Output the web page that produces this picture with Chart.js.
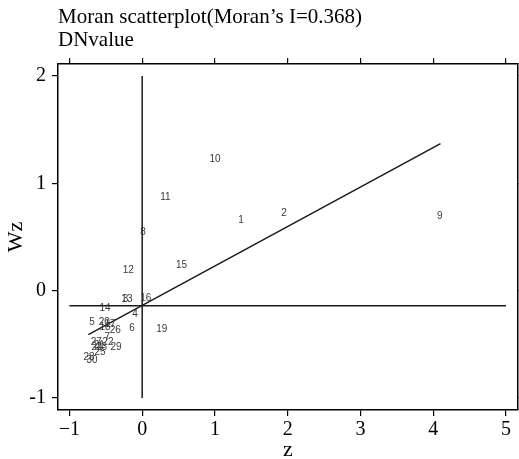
<!DOCTYPE html>
<html>
<head>
<meta charset="utf-8">
<script src="https://cdn.jsdelivr.net/npm/chart.js@4/dist/chart.umd.min.js"></script>
<style>
  html, body { margin: 0; padding: 0; background: #fff; }
  canvas { display: block; }
</style>
</head>
<body>
<canvas id="moranChart" width="519" height="459"></canvas>
<script>
// Moran scatterplot values
const pointIds = ["1", "2", "3", "4", "5", "6", "7", "8", "9", "10",
  "11", "12", "13", "14", "15", "16", "17", "18", "19", "20",
  "21", "22", "23", "24", "25", "26", "27", "28", "29", "30"];
const zValues = [1.36, 1.95, -0.23, -0.10, -0.69, -0.14, -0.48, 0.01, 4.09, 1.00,
  0.32, -0.19, -0.21, -0.51, 0.54, 0.05, -0.44, -0.51, 0.27, -0.52,
  -0.59, -0.47, -0.56, -0.62, -0.58, -0.37, -0.63, -0.73, -0.36, -0.69];
const wzValues = [0.66, 0.72, -0.08, -0.22, -0.29, -0.35, -0.43, 0.54, 0.69, 1.22,
  0.87, 0.19, -0.08, -0.16, 0.24, -0.07, -0.31, -0.34, -0.36, -0.29,
  -0.51, -0.48, -0.53, -0.53, -0.57, -0.37, -0.48, -0.62, -0.53, -0.65];

// reference lines
const fitLineZ = [-0.74, 4.10];
const fitLineWz = [-0.41, 1.37];
const meanLineZ = [-1, 5];
const meanLineWz = [-0.14, -0.14];
const zeroLineZ = [0, 0];
const zeroLineWz = [-1, 2];

const xTicks = [-1, 0, 1, 2, 3, 4, 5];
const yTicks = [-1, 0, 1, 2];
const xRange = [-1.157, 5.165];
const yRange = [-1.112, 2.112];
const titleLines = ["Moran scatterplot(Moran\u2019s I=0.368)", "DNvalue"];

const serif = "'Liberation Serif', 'Times New Roman', serif";

function toPoints(xs, ys) {
  return xs.map((x, i) => ({ x: x, y: ys[i] }));
}

function lineDataset(xs, ys) {
  return {
    data: toPoints(xs, ys),
    showLine: true,
    borderColor: "#1a1a1a",
    borderWidth: 1.5,
    pointRadius: 0,
    xAxisID: "x",
    yAxisID: "y",
  };
}

// draws the region numbers at each point
const pointLabelPlugin = {
  id: "pointLabels",
  afterDatasetsDraw(chart) {
    const { ctx } = chart;
    const x = chart.scales.x;
    const y = chart.scales.y;
    ctx.save();
    ctx.font = "10px 'Liberation Sans', Arial, sans-serif";
    ctx.fillStyle = "#3a3a3a";
    ctx.textAlign = "center";
    ctx.textBaseline = "middle";
    zValues.forEach((v, i) => {
      ctx.fillText(pointIds[i], x.getPixelForValue(v), y.getPixelForValue(wzValues[i]));
    });
    ctx.restore();
  },
};

const tickGrid = { display: true, drawOnChartArea: false, drawTicks: true, tickLength: 6, color: "#000", lineWidth: 1.2 };
const frame = { display: true, color: "#000", width: 1.5 };

const ctx = document.getElementById("moranChart");
new Chart(ctx, {
  type: "scatter",
  data: {
    datasets: [
      lineDataset(zeroLineZ, zeroLineWz),
      lineDataset(meanLineZ, meanLineWz),
      lineDataset(fitLineZ, fitLineWz),
      {
        data: toPoints(zValues, wzValues),
        pointRadius: 0,
        xAxisID: "x",
        yAxisID: "y",
      },
    ],
  },
  options: {
    responsive: false,
    animation: false,
    events: [],
    plugins: {
      legend: { display: false },
      tooltip: { enabled: false },
      title: {
        display: true,
        text: titleLines,
        align: "start",
        fullSize: false,
        color: "#000",
        font: { family: serif, size: 21, weight: "normal", lineHeight: 1.095 },
        padding: { top: 6, bottom: 6 },
      },
    },
    scales: {
      x: {
        type: "linear",
        position: "bottom",
        min: xRange[0],
        max: xRange[1],
        afterBuildTicks: (axis) => { axis.ticks = xTicks.map((value) => ({ value })); },
        afterFit: (axis) => { axis.height = 49; },
        grid: tickGrid,
        border: frame,
        ticks: {
          color: "#000",
          autoSkip: false,
          maxRotation: 0,
          padding: 4,
          font: { family: serif, size: 20, lineHeight: 1 },
          callback: (v) => (v < 0 ? "\u2212" + Math.abs(v) : String(v)),
        },
        title: {
          display: true,
          text: "z",
          color: "#000",
          font: { family: serif, size: 22, lineHeight: 0.8 },
          padding: 0,
        },
      },
      x2: {
        type: "linear",
        axis: "x",
        position: "top",
        min: xRange[0],
        max: xRange[1],
        afterBuildTicks: (axis) => { axis.ticks = xTicks.map((value) => ({ value })); },
        afterFit: (axis) => { axis.height = 6; },
        grid: tickGrid,
        border: frame,
        ticks: { display: false },
      },
      y: {
        type: "linear",
        position: "left",
        min: yRange[0],
        max: yRange[1],
        afterBuildTicks: (axis) => { axis.ticks = yTicks.map((value) => ({ value })); },
        afterFit: (axis) => { axis.width = 58; },
        grid: tickGrid,
        border: frame,
        ticks: {
          color: "#000",
          autoSkip: false,
          padding: 6,
          font: { family: serif, size: 20, lineHeight: 1 },
          callback: (v) => String(v),
        },
        title: {
          display: true,
          text: "Wz",
          color: "#000",
          font: { family: serif, size: 22, lineHeight: 1 },
          padding: { top: 5, bottom: 0 },
        },
      },
      y2: {
        type: "linear",
        axis: "y",
        position: "right",
        min: yRange[0],
        max: yRange[1],
        afterBuildTicks: (axis) => { axis.ticks = yTicks.map((value) => ({ value })); },
        afterFit: (axis) => { axis.width = 1; },
        grid: tickGrid,
        border: frame,
        ticks: { display: false },
      },
    },
  },
  plugins: [pointLabelPlugin],
});
</script>
</body>
</html>
